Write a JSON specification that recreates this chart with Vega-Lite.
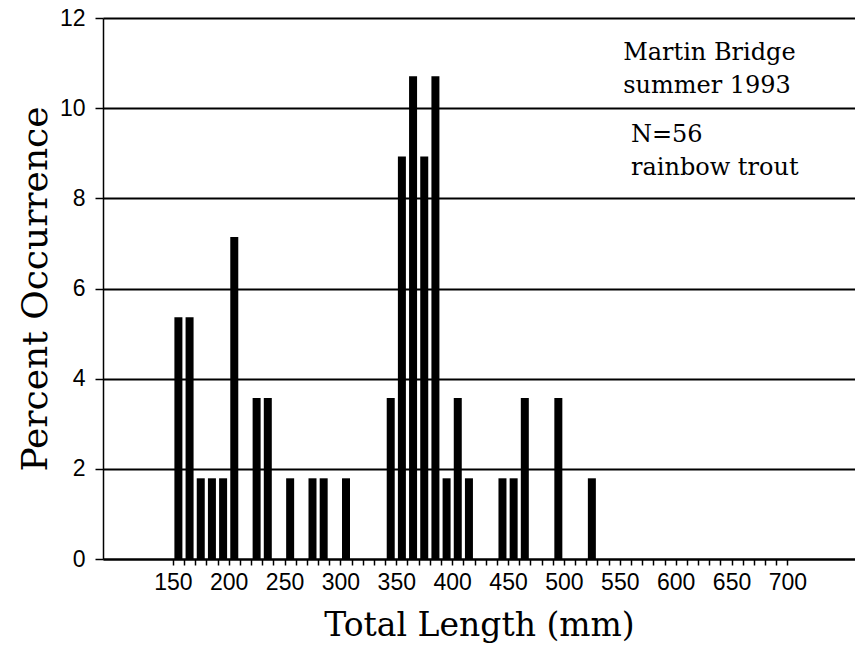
{
  "$schema": "https://vega.github.io/schema/vega-lite/v6.json",
  "width": 752,
  "height": 541,
  "autosize": {"type": "none"},
  "padding": {"left": 103, "top": 18, "right": 0, "bottom": 92},
  "background": "white",
  "config": {"view": {"stroke": null}},
  "layer": [
    {
      "data": {"values": [
        {"length": 155, "percent": 5.36},
        {"length": 165, "percent": 5.36},
        {"length": 175, "percent": 1.79},
        {"length": 185, "percent": 1.79},
        {"length": 195, "percent": 1.79},
        {"length": 205, "percent": 7.14},
        {"length": 225, "percent": 3.57},
        {"length": 235, "percent": 3.57},
        {"length": 255, "percent": 1.79},
        {"length": 275, "percent": 1.79},
        {"length": 285, "percent": 1.79},
        {"length": 305, "percent": 1.79},
        {"length": 345, "percent": 3.57},
        {"length": 355, "percent": 8.93},
        {"length": 365, "percent": 10.71},
        {"length": 375, "percent": 8.93},
        {"length": 385, "percent": 10.71},
        {"length": 395, "percent": 1.79},
        {"length": 405, "percent": 3.57},
        {"length": 415, "percent": 1.79},
        {"length": 445, "percent": 1.79},
        {"length": 455, "percent": 1.79},
        {"length": 465, "percent": 3.57},
        {"length": 495, "percent": 3.57},
        {"length": 525, "percent": 1.79}
      ]},
      "mark": {"type": "bar", "color": "black", "size": 8},
      "encoding": {
        "x": {
          "field": "length", "type": "quantitative",
          "scale": {"domain": [92, 756], "nice": false, "zero": false},
          "axis": {
            "values": [150,160,170,180,190,200,210,220,230,240,250,260,270,280,290,300,310,320,330,340,350,360,370,380,390,400,410,420,430,440,450,460,470,480,490,500,510,520,530,540,550,560,570,580,590,600,610,620,630,640,650,660,670,680,690,700],
            "tickCount": 200,
            "format": "d",
            "labelExpr": "datum.value % 50 === 0 ? datum.label : ''",
            "labelOverlap": false,
            "labelBound": false,
            "labelFlush": false,
            "grid": false,
            "domainColor": "black",
            "domainWidth": 2,
            "tickColor": "black",
            "tickWidth": 1.5,
            "tickSize": 6,
            "labelFont": "Liberation Sans",
            "labelFontSize": 23,
            "labelColor": "black",
            "labelPadding": 6,
            "title": "Total Length (mm)",
            "titleFont": "DejaVu Serif",
            "titleFontSize": 33,
            "titleFontWeight": "normal",
            "titleColor": "black",
            "titlePadding": 15
          }
        },
        "y": {
          "field": "percent", "type": "quantitative",
          "scale": {"domain": [0, 12], "nice": false},
          "axis": {
            "values": [0, 2, 4, 6, 8, 10, 12],
            "tickCount": 20,
            "format": "d",
            "grid": true,
            "gridColor": "black",
            "gridWidth": 2,
            "gridOpacity": 1,
            "domainColor": "black",
            "domainWidth": 1.5,
            "tickColor": "black",
            "tickWidth": 1.5,
            "tickSize": 8,
            "labelFont": "Liberation Sans",
            "labelFontSize": 23,
            "labelColor": "black",
            "labelPadding": 10,
            "title": "Percent Occurrence",
            "titleFont": "DejaVu Serif",
            "titleFontSize": 36,
            "titleFontWeight": "normal",
            "titleColor": "black",
            "titlePadding": 5
          }
        }
      }
    },
    {
      "data": {"values": [
        {"length": 553, "percent": 11.07, "label": "Martin Bridge"},
        {"length": 553, "percent": 10.34, "label": "summer 1993"},
        {"length": 560, "percent": 9.26, "label": "N=56"},
        {"length": 560, "percent": 8.52, "label": "rainbow trout"}
      ]},
      "mark": {"type": "text", "align": "left", "baseline": "alphabetic", "font": "DejaVu Serif", "fontSize": 24, "color": "black"},
      "encoding": {
        "x": {"field": "length", "type": "quantitative"},
        "y": {"field": "percent", "type": "quantitative"},
        "text": {"field": "label"}
      }
    }
  ]
}
